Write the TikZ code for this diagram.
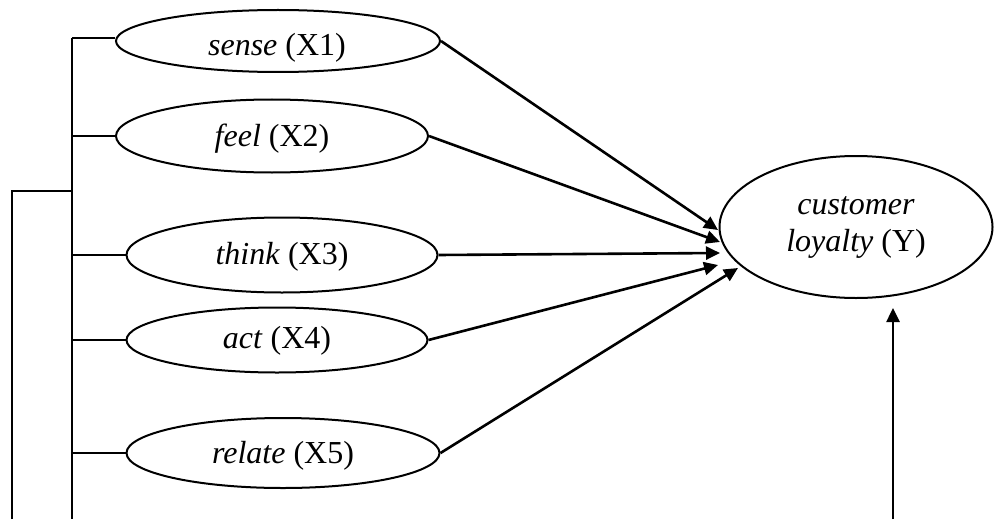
\documentclass[tikz,border=0pt]{standalone}
\usepackage{fontspec}
\setmainfont{Liberation Serif}
\usetikzlibrary{shapes.geometric,arrows.meta}

\tikzset{
  construct/.style={draw, line width=1pt, shape=ellipse, inner sep=0pt},
  caption/.style={anchor=base, inner sep=0pt, font=\fontsize{16}{18.5}\selectfont, align=center},
  bus/.style={line width=1pt},
  path arrow/.style={line width=1.3pt, -{Triangle[length=7pt,width=6.5pt]}}
}

\begin{document}
\begin{tikzpicture}[x=0.5pt,y=-0.5pt]
\useasboundingbox (0,0) rectangle (994,519);

% experiential dimensions
\node[construct, minimum width=162pt, minimum height=31pt] (sense)  at (278,41)  {};
\node[construct, minimum width=156pt, minimum height=36.5pt] (feel)   at (272,136) {};
\node[construct, minimum width=155.5pt, minimum height=37.5pt] (think) at (282,255) {};
\node[construct, minimum width=150.5pt, minimum height=32.5pt] (act)  at (277,340) {};
\node[construct, minimum width=156.5pt, minimum height=35pt] (relate) at (283,453) {};

\node[caption] (senseText)  at (277,56)  {\textit{sense} (X1)};
\node[caption] (feelText)   at (272,146) {\textit{feel} (X2)};
\node[caption] (thinkText)  at (282,264) {\textit{think} (X3)};
\node[caption] (actText)    at (277,348) {\textit{act} (X4)};
\node[caption] (relateText) at (283,463) {\textit{relate} (X5)};

% outcome
\node[construct, minimum width=136.5pt, minimum height=71pt,
      font=\fontsize{16}{18.5}\selectfont, align=center] (loyal) at (856,227)
  {\textit{customer}\\\textit{loyalty} (Y)};

% arrow tips on the outcome ellipse
\coordinate (t1) at (718,230);
\coordinate (t2) at (720,242);
\coordinate (t3) at (720,253);
\coordinate (t4) at (718,265);
\coordinate (t5) at (738,268);

\draw[path arrow] (sense.east)  -- (t1);
\draw[path arrow] (feel.east)   -- (t2);
\draw[path arrow] (think.east)  -- (t3);
\draw[path arrow] (act.east)    -- (t4);
\draw[path arrow] (relate.east) -- (t5);

% grouping bracket on the left
\coordinate (busTop) at (72,38);
\coordinate (busBot) at (72,519);
\coordinate (outTop) at (12,191);
\coordinate (outBot) at (12,519);

\draw[bus] (busTop) -- (sense.west |- busTop);
\draw[bus] (busTop) -- (busBot);
\draw[bus] (busTop |- feel.west)   -- (feel.west);
\draw[bus] (busTop |- think.west)  -- (think.west);
\draw[bus] (busTop |- act.west)    -- (act.west);
\draw[bus] (busTop |- relate.west) -- (relate.west);
\draw[bus] (outBot) -- (outTop) -- (busTop |- outTop);

% joint effect arrow from below
\coordinate (jointBase) at (893,519);
\draw[path arrow, shorten >=4.5pt] (jointBase) -- (jointBase |- loyal.south);
\end{tikzpicture}
\end{document}
